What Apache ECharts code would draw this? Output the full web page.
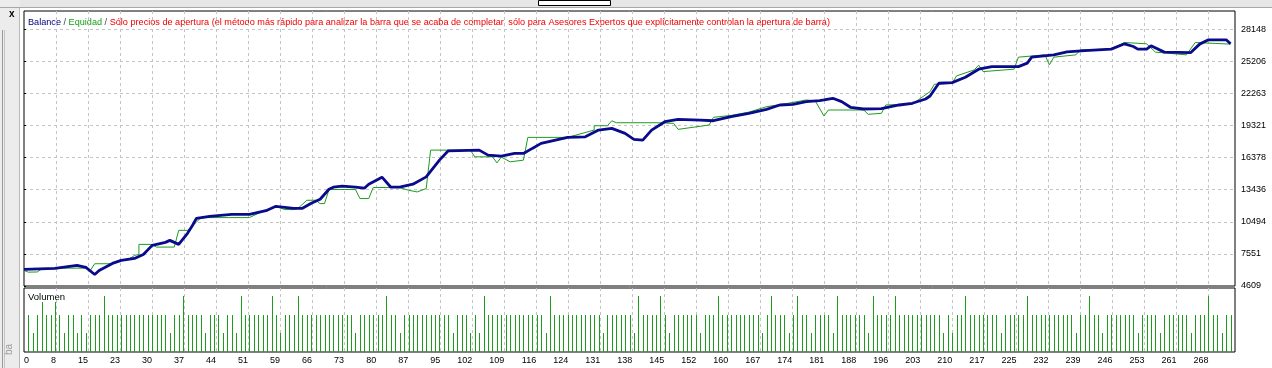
<!DOCTYPE html>
<html>
<head>
<meta charset="utf-8">
<script src="https://cdn.jsdelivr.net/npm/echarts@6/dist/echarts.min.js"></script>
<style>
html,body{margin:0;padding:0;background:#fff;}
#chart{width:1272px;height:368px;}
</style>
</head>
<body>
<div id="chart"></div>
<script>
// ---- data (trade number, value) ----
const xTickLabels = [0,8,15,23,30,37,44,51,59,66,73,80,87,95,102,109,116,124,131,138,145,152,160,167,174,181,188,196,203,210,217,225,232,239,246,253,261,268];
const yTickLabels = [4609,7551,10494,13436,16378,19321,22263,25206,28148];

const balance = [[0,6126],[7,6218],[12,6494],[14,6310],[16,5666],[17,6034],[20,6678],[22,6954],[25,7138],[27,7505],[29,8333],[32,8609],[33,8793],[35,8425],[37,9436],[38,10080],[39,10815],[42,10999],[47,11183],[51,11183],[52,11275],[55,11551],[57,11919],[59,11827],[61,11735],[63,11735],[65,12195],[67,12563],[69,13482],[70,13666],[72,13758],[75,13666],[77,13574],[78,13942],[81,14586],[83,13666],[85,13666],[88,13942],[91,14613],[94,16149],[96,17004],[103,17068],[105,16609],[108,16517],[111,16765],[113,16765],[115,17225],[117,17684],[123,18236],[127,18291],[130,18907],[133,19063],[136,18604],[138,18052],[140,17988],[142,18907],[145,19671],[148,19891],[153,19827],[156,19762],[160,20130],[164,20443],[168,20811],[171,21206],[174,21271],[177,21510],[180,21602],[181,21666],[183,21822],[185,21510],[187,20995],[190,20838],[194,20866],[198,21206],[201,21362],[204,21758],[205,22033],[207,23201],[210,23256],[213,23753],[216,24489],[219,24728],[225,24728],[227,25040],[228,25592],[233,25803],[236,26079],[240,26199],[246,26328],[249,26815],[251,26567],[252,26328],[254,26328],[255,26631],[258,26052],[264,26015],[266,26787],[268,27183],[272,27183],[273,26815]];

const equity = [[0,6034],[1,5878],[3,5896],[4,6172],[8,6218],[9,6246],[14,6246],[15,6034],[16,6650],[19,6650],[20,6678],[22,6954],[24,7138],[25,7414],[26,7505],[26,8425],[29,8425],[30,8177],[34,8177],[35,9712],[37,9712],[39,10448],[40,10880],[51,10880],[54,11459],[57,11919],[59,11616],[61,11616],[62,11735],[64,12471],[66,12471],[67,12167],[68,12167],[69,13455],[75,13455],[76,12627],[78,12627],[79,13638],[85,13638],[87,13390],[89,13234],[91,13546],[92,17068],[101,17068],[102,16452],[106,16452],[107,15901],[108,16425],[110,15993],[113,16149],[114,18236],[123,18236],[129,18907],[129,19303],[132,19303],[133,19762],[134,19579],[143,19579],[147,19523],[148,18971],[155,19367],[156,20075],[160,20250],[164,20550],[168,21050],[172,21300],[177,21666],[179,21600],[181,20195],[182,20746],[190,20746],[191,20351],[194,20443],[195,21206],[201,21298],[205,22429],[206,23109],[210,23201],[211,23872],[215,24425],[216,24856],[217,24268],[224,24489],[225,25592],[231,25803],[232,24884],[233,25592],[238,25803],[239,26263],[246,26328],[249,26935],[254,26815],[256,26052],[263,25803],[265,26935],[273,26787]];

// volume per trade (trades 1..273)
const volume = [
6,3,6,8,6,6,8,6,3,6,
6,3,6,3,6,6,6,9,6,6,
6,6,6,6,6,6,6,6,6,6,
6,6,3,6,6,9,6,6,6,6,
3,6,6,6,3,6,6,3,9,6,
6,6,6,6,6,9,6,3,6,6,
6,9,6,6,6,6,6,6,6,6,
6,6,6,6,3,6,6,6,6,6,
6,9,6,6,3,6,6,6,6,6,
6,6,6,6,6,6,3,6,6,6,
3,6,3,9,6,6,6,6,6,6,
6,6,6,6,6,6,6,3,9,6,
6,6,6,6,6,6,6,6,6,6,
3,6,6,6,6,6,6,3,9,6,
6,6,6,9,6,3,6,6,6,6,
6,6,3,6,6,6,9,6,6,6,
6,6,6,6,6,6,3,6,9,6,
6,6,3,6,9,6,6,3,6,6,
6,6,3,9,6,6,6,6,6,6,
3,9,6,6,6,6,9,6,6,6,
6,6,6,6,6,6,6,3,6,3,
6,6,9,6,6,6,6,6,6,6,
3,6,6,6,6,6,9,6,6,6,
6,6,6,6,6,6,6,3,6,6,
9,6,6,3,6,6,6,6,6,6,
6,3,6,6,6,6,3,6,6,6,
6,6,6,3,6,6,6,9,6,6,
3,6,6];

// ---- chart ----
const FONT = '"Liberation Sans", Arial, sans-serif';
const GRID_COLOR = '#c4c4c4';
const GREEN = '#1e9c1e';
const xStep = xTickLabels[xTickLabels.length - 1] / (xTickLabels.length - 1);
const yMin = yTickLabels[0] - 0.1;
const yStep = (yTickLabels[yTickLabels.length - 1] - yTickLabels[0]) / (yTickLabels.length - 1);
const yMax = yMin + yStep * (275 / 32.09);

function xLabel(v) {
  const k = Math.round(v / xStep);
  if (Math.abs(k * xStep - v) < 1e-3 && k < xTickLabels.length) return String(xTickLabels[k]);
  return '';
}
function yLabel(v) {
  const k = Math.round((v - yMin) / yStep);
  if (Math.abs(yMin + k * yStep - v) < 1e-3 && k < yTickLabels.length) return String(yTickLabels[k]);
  return '';
}
const splitStyle = {show: true, showMinLine: false, showMaxLine: false,
  lineStyle: {color: GRID_COLOR, type: [3, 3], width: 1}};

const chart = echarts.init(document.getElementById('chart'), null, {renderer: 'canvas'});
chart.setOption({
  animation: false,
  backgroundColor: '#ffffff',
  grid: [
    {left: 24, top: 11, width: 1211, height: 275, show: true, borderColor: '#000', borderWidth: 1, backgroundColor: 'transparent', containLabel: false},
    {left: 24, top: 288, width: 1211, height: 64, show: true, borderColor: '#000', borderWidth: 1, backgroundColor: 'transparent', containLabel: false}
  ],
  xAxis: [
    {type: 'value', gridIndex: 0, min: 0, max: 274, interval: xStep, z: 0,
      axisLine: {show: false}, axisTick: {show: false}, axisLabel: {show: false}, splitLine: splitStyle},
    {type: 'value', gridIndex: 1, min: 0, max: 274, interval: xStep, z: 0,
      axisLine: {show: false}, axisTick: {show: false}, splitLine: splitStyle,
      axisLabel: {show: true, formatter: xLabel, align: 'right', margin: 4, fontSize: 9, fontFamily: FONT, color: '#000',
        alignMinLabel: 'left', showMaxLabel: false}}
  ],
  yAxis: [
    {type: 'value', gridIndex: 0, position: 'right', min: yMin, max: yMax, interval: yStep, z: 0,
      axisLine: {show: false}, axisTick: {show: true, length: 2, lineStyle: {color: '#000'}}, splitLine: splitStyle,
      axisLabel: {show: true, formatter: yLabel, margin: 6, fontSize: 9, fontFamily: FONT, color: '#000', showMaxLabel: false}},
    {type: 'value', gridIndex: 1, min: 0, max: 10.32, show: false, splitLine: {show: false}}
  ],
  series: [
    {name: 'Equidad', type: 'line', xAxisIndex: 0, yAxisIndex: 0, data: equity, showSymbol: false, symbol: 'none',
      lineStyle: {color: GREEN, width: 1}, z: 5},
    {name: 'Balance', type: 'line', xAxisIndex: 0, yAxisIndex: 0, data: balance, showSymbol: false, symbol: 'none',
      lineStyle: {color: '#0a0a8c', width: 2.8}, z: 6},
    {name: 'Volumen', type: 'custom', xAxisIndex: 1, yAxisIndex: 1, data: volume.map((v, i) => [i + 1, v]), z: 10,
      renderItem: function (params, api) {
        const base = api.coord([api.value(0), 0]);
        const top = api.coord([api.value(0), api.value(1)]);
        const x = Math.round(base[0]);
        const y0 = Math.round(top[1]);
        const y1 = Math.round(base[1]);
        return {type: 'rect', shape: {x: x, y: y0, width: 1, height: y1 - y0},
          style: {fill: GREEN, stroke: null}};
      }}
  ],
  graphic: [
    // window chrome
    {type: 'rect', left: 0, top: 0, shape: {width: 1272, height: 8}, style: {fill: '#e6e6e6'}, silent: true, z: -10},
    {type: 'rect', left: 0, top: 7, shape: {width: 1272, height: 1}, style: {fill: '#a8a8a8'}, silent: true, z: -9},
    {type: 'rect', left: 538, top: 0, shape: {width: 72, height: 5}, style: {fill: '#ffffff', stroke: '#000', lineWidth: 1}, silent: true, z: -8},
    {type: 'rect', left: 0, top: 0, shape: {width: 20, height: 368}, style: {fill: '#ececec'}, silent: true, z: -10},
    {type: 'rect', left: 2, top: 30, shape: {width: 1, height: 338}, style: {fill: '#9a9a9a'}, silent: true, z: -9},
    {type: 'rect', left: 4, top: 30, shape: {width: 1, height: 338}, style: {fill: '#c4c4c4'}, silent: true, z: -9},
    {type: 'rect', left: 19, top: 8, shape: {width: 1, height: 360}, style: {fill: '#b8b8b8'}, silent: true, z: -9},
    {type: 'text', left: 9, top: 9, style: {text: 'x', font: 'bold 10px ' + FONT, fill: '#000'}, silent: true},
    {type: 'text', x: 9, y: 344, rotation: Math.PI / 2, style: {text: 'ba', font: '10px ' + FONT, fill: '#9a9a9a', verticalAlign: 'middle', align: 'right'}, silent: true},
    // header line
    {type: 'text', left: 28, top: 18, silent: true, style: {
      text: '{b|Balance}{s| / }{g|Equidad}{s| / }{r|Sólo precios de apertura (el método más rápido para analizar la barra que se acaba de completar, sólo para Asesores Expertos que explícitamente controlan la apertura de barra)}',
      font: '9.15px ' + FONT,
      rich: {
        b: {fill: '#000080', font: '9.15px ' + FONT},
        s: {fill: '#404040', font: '9.15px ' + FONT},
        g: {fill: '#12a012', font: '9.15px ' + FONT},
        r: {fill: '#ee0000', font: '9.15px ' + FONT}
      }}},
    {type: 'text', left: 28, top: 292, silent: true, style: {text: 'Volumen', font: '9.5px ' + FONT, fill: '#000'}}
  ]
});
</script>
</body>
</html>
